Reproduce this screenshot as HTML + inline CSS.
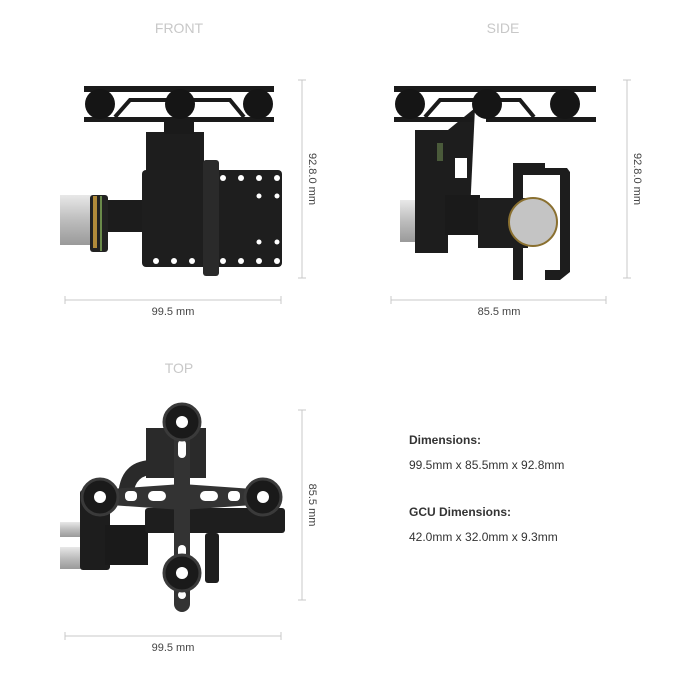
<!DOCTYPE html>
<html><head><style>
html,body{margin:0;padding:0;background:#fff;}
body{width:675px;height:700px;position:relative;overflow:hidden;font-family:"Liberation Sans",sans-serif;}
.t{position:absolute;color:#333;font-size:12px;}
</style></head><body>
<svg width="675" height="700" style="position:absolute;left:0;top:0" font-family="Liberation Sans, sans-serif">
<defs>
<linearGradient id="sil" x1="0" y1="0" x2="0" y2="1"><stop offset="0" stop-color="#e8e8e8"/><stop offset=".5" stop-color="#bdbdbd"/><stop offset="1" stop-color="#9a9a9a"/></linearGradient>
</defs>
<!-- titles -->
<g fill="#c8c8c8" font-size="14" text-anchor="middle">
<text x="179" y="33">FRONT</text><text x="503" y="33">SIDE</text><text x="179" y="373">TOP</text>
</g>
<!-- dimension lines -->
<g stroke="#c8c8c8" stroke-width="1" fill="none">
<line x1="302" y1="80" x2="302" y2="278"/><line x1="298" y1="80" x2="306" y2="80"/><line x1="298" y1="278" x2="306" y2="278"/>
<line x1="65" y1="300" x2="281" y2="300"/><line x1="65" y1="296" x2="65" y2="304"/><line x1="281" y1="296" x2="281" y2="304"/>
<line x1="627" y1="80" x2="627" y2="278"/><line x1="623" y1="80" x2="631" y2="80"/><line x1="623" y1="278" x2="631" y2="278"/>
<line x1="391" y1="300" x2="606" y2="300"/><line x1="391" y1="296" x2="391" y2="304"/><line x1="606" y1="296" x2="606" y2="304"/>
<line x1="302" y1="410" x2="302" y2="600"/><line x1="298" y1="410" x2="306" y2="410"/><line x1="298" y1="600" x2="306" y2="600"/>
<line x1="65" y1="636" x2="281" y2="636"/><line x1="65" y1="632" x2="65" y2="640"/><line x1="281" y1="632" x2="281" y2="640"/>
</g>
<g fill="#444" font-size="11" text-anchor="middle">
<text x="173" y="315">99.5 mm</text><text x="499" y="315">85.5 mm</text><text x="173" y="651">99.5 mm</text>
<text transform="translate(309,179) rotate(90)">92.8.0 mm</text>
<text transform="translate(634,179) rotate(90)">92.8.0 mm</text>
<text transform="translate(309,505) rotate(90)">85.5 mm</text>
</g>
<!-- FRONT -->
<g>
<rect x="60" y="195" width="40" height="50" fill="url(#sil)"/>
<rect x="90" y="195" width="18" height="57" rx="3" fill="#222"/>
<rect x="93" y="196" width="4" height="52" fill="#b08a3a"/>
<rect x="100" y="196" width="2" height="55" fill="#6a8a4a"/>
<rect x="108" y="200" width="38" height="32" fill="#1c1c1c"/>
<rect x="146" y="132" width="58" height="40" fill="#1d1d1d"/>
<rect x="164" y="118" width="30" height="16" fill="#1a1a1a"/>
<rect x="142" y="170" width="140" height="97" rx="4" fill="#1e1e1e"/>
<rect x="203" y="160" width="16" height="116" rx="3" fill="#2a2a2a"/>
<g fill="#fff"><circle cx="223" cy="178" r="3"/><circle cx="241" cy="178" r="3"/><circle cx="259" cy="178" r="3"/><circle cx="277" cy="178" r="3"/>
<circle cx="156" cy="261" r="3"/><circle cx="174" cy="261" r="3"/><circle cx="192" cy="261" r="3"/><circle cx="223" cy="261" r="3"/><circle cx="241" cy="261" r="3"/><circle cx="259" cy="261" r="3"/><circle cx="277" cy="261" r="3"/>
<circle cx="259" cy="196" r="2.5"/><circle cx="277" cy="196" r="2.5"/><circle cx="259" cy="242" r="2.5"/><circle cx="277" cy="242" r="2.5"/></g>
<rect x="84" y="86" width="190" height="6" fill="#1a1a1a"/>
<rect x="84" y="117" width="190" height="5" fill="#1a1a1a"/>
<path d="M115 117 L130 100 L230 100 L244 117" stroke="#1a1a1a" stroke-width="4" fill="none"/>
<circle cx="100" cy="104" r="15" fill="#151515"/><circle cx="180" cy="104" r="15" fill="#151515"/><circle cx="258" cy="104" r="15" fill="#151515"/>
</g>
<!-- SIDE -->
<g>
<rect x="400" y="200" width="20" height="42" fill="url(#sil)"/>
<rect x="428" y="210" width="6" height="38" fill="#8a6a2a"/>
<rect x="415" y="130" width="33" height="123" fill="#1d1d1d"/>
<path d="M448 130 L475 108 L470 212 L448 212 Z" fill="#1d1d1d"/>
<rect x="455" y="158" width="12" height="20" fill="#fff"/>
<rect x="437" y="143" width="6" height="18" fill="#4a5a3a"/>
<rect x="445" y="195" width="35" height="40" fill="#1a1a1a"/>
<path d="M514 163 L545 163 L545 168 L567 168 L570 172 L570 272 L560 280 L545 280 L545 270 L560 270 L560 175 L545 175 L523 175 Z" fill="#1d1d1d"/>
<path d="M513 163 L523 163 L523 280 L513 280 Z" fill="#1d1d1d"/>
<rect x="478" y="198" width="50" height="50" fill="#1e1e1e"/>
<circle cx="533" cy="222" r="24" fill="#c4c4c4" stroke="#8a7030" stroke-width="2"/>
<rect x="394" y="86" width="202" height="6" fill="#1a1a1a"/>
<rect x="394" y="117" width="80" height="5" fill="#1a1a1a"/>
<rect x="486" y="117" width="110" height="5" fill="#1a1a1a"/>
<path d="M425 117 L440 100 L520 100 L534 117" stroke="#1a1a1a" stroke-width="4" fill="none"/>
<circle cx="410" cy="104" r="15" fill="#151515"/><circle cx="487" cy="104" r="15" fill="#151515"/><circle cx="565" cy="104" r="15" fill="#151515"/>
</g>
<!-- TOP -->
<g>
<rect x="60" y="522" width="25" height="15" fill="url(#sil)"/>
<rect x="60" y="547" width="25" height="22" fill="url(#sil)"/>
<rect x="85" y="535" width="10" height="33" fill="#b08a3a"/>
<rect x="80" y="490" width="30" height="80" rx="3" fill="#1d1d1d"/>
<rect x="105" y="525" width="43" height="40" fill="#1a1a1a"/>
<rect x="146" y="428" width="60" height="50" fill="#2a2a2a"/>
<rect x="174" y="442" width="12" height="10" fill="#d8c040"/>
<path d="M118 500 Q118 462 150 460 L175 460 L175 475 L150 475 Q133 477 133 500 Z" fill="#2a2a2a"/>
<rect x="145" y="508" width="140" height="25" rx="3" fill="#1e1e1e"/>
<rect x="205" y="533" width="14" height="50" rx="3" fill="#1e1e1e"/>
<path d="M96 490 L182 484 L268 490 L268 504 L182 510 L96 504 Z" fill="#333"/>
<rect x="174" y="422" width="16" height="190" rx="8" fill="#333"/>
<g fill="#fff"><rect x="125" y="491" width="12" height="10" rx="4"/><rect x="148" y="491" width="18" height="10" rx="5"/><rect x="200" y="491" width="18" height="10" rx="5"/><rect x="228" y="491" width="12" height="10" rx="4"/>
<rect x="178" y="440" width="8" height="18" rx="4"/><rect x="178" y="545" width="8" height="14" rx="4"/><circle cx="182" cy="595" r="4"/></g>
<g fill="#1a1a1a" stroke="#3a3a3a" stroke-width="3"><circle cx="182" cy="422" r="18"/><circle cx="182" cy="573" r="18"/><circle cx="100" cy="497" r="18"/><circle cx="263" cy="497" r="18"/></g>
<g fill="#fff"><circle cx="182" cy="422" r="6"/><circle cx="182" cy="573" r="6"/><circle cx="100" cy="497" r="6"/><circle cx="263" cy="497" r="6"/></g>
</g>
</svg>
<div class="t" style="left:409px;top:433px;font-weight:bold;">Dimensions:</div>
<div class="t" style="left:409px;top:458px;">99.5mm x 85.5mm x 92.8mm</div>
<div class="t" style="left:409px;top:505px;font-weight:bold;">GCU Dimensions:</div>
<div class="t" style="left:409px;top:530px;">42.0mm x 32.0mm x 9.3mm</div>
</body></html>
